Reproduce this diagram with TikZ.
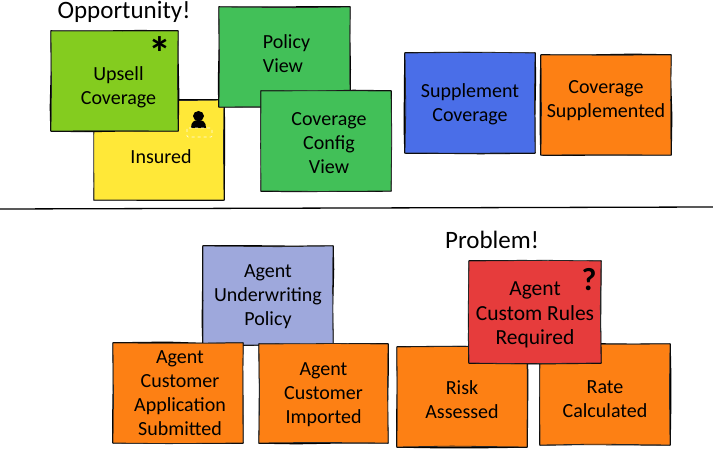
\documentclass[tikz,border=0pt]{standalone}
\usepackage{fontspec}
\setmainfont{Carlito}
\usetikzlibrary{decorations.pathmorphing,calc}
\definecolor{lime}{HTML}{84CC1F}
\definecolor{grn}{HTML}{42C058}
\definecolor{yel}{HTML}{FFE838}
\definecolor{blu}{HTML}{4A6EE8}
\definecolor{org}{HTML}{FD8014}
\definecolor{lav}{HTML}{9EA8DC}
\definecolor{rd}{HTML}{E63C3C}
\tikzset{
  x=1pt,y=-1pt,
  sticky/.style={anchor=north west,inner sep=0pt,outer sep=0pt,
    preaction={draw=black,line width=1.5pt,line cap=round,line join=round,
      decorate,decoration={random steps,segment length=38pt,amplitude=.7pt}},
    postaction={draw=black!85,line width=.8pt,line cap=round,
      decorate,decoration={random steps,segment length=55pt,amplitude=.9pt}}},
  box/.style n args={3}{sticky,minimum width=#1,minimum height=#2,fill=#3},
  every label/.style={inner sep=0pt,align=center,text=black,font=\fontsize{20}{24}\selectfont},
  heading/.style={font=\fontsize{25}{28}\selectfont,inner sep=0pt},
  glyph/.style={font=\fontsize{32}{32}\selectfont\bfseries,inner sep=0pt},
}
\pgfmathsetseed{11}
\begin{document}
\begin{tikzpicture}
\useasboundingbox (0,0) rectangle (713,449);
\node[heading] (opp) at (124,12) {Opportunity!};
\node[heading] (prob) at (492,240) {Problem!};
\node[box={130pt}{100pt}{yel},label={[name=insuredT,xshift=2pt,yshift=-7pt]center:Insured}] (insured) at (94,100) {};
\node[box={127pt}{100pt}{lime},label={[name=upsellT,xshift=4pt,yshift=-6pt]center:Upsell\\Coverage}] (upsell) at (51,31) {};
\node[box={131pt}{100pt}{grn},label={[name=policyT,align=left,xshift=2pt,yshift=3pt]center:Policy\\View}] (policy) at (219,7) {};
\node[box={130pt}{100pt}{grn},label={[name=configT,xshift=3pt,yshift=-2pt]center:Coverage\\Config\\View}] (config) at (261,91) {};
\node[box={130pt}{100pt}{blu},label={[name=suppT,yshift=-1pt]center:Supplement\\Coverage}] (supp) at (405,53) {};
\node[box={130pt}{100pt}{org},label={[name=suppedT,yshift=4pt]center:Coverage\\Supplemented}] (supped) at (541,55) {};
\coordinate (lineL) at (0,209);
\coordinate (lineR) at (713,207);
\draw[line width=1.3pt,black] (lineL) -- (lineR);
\node[box={130pt}{99pt}{lav},label={[name=underT,yshift=-1pt]center:Agent\\Underwriting\\Policy}] (under) at (203,246) {};
\node[box={130pt}{100pt}{org},label={[name=appT,xshift=2pt]center:Agent\\Customer\\Application\\Submitted}] (app) at (113,343) {};
\node[box={129pt}{99pt}{org},label={[name=importedT,yshift=-1pt]center:Agent\\Customer\\Imported}] (imported) at (259,344) {};
\node[box={130pt}{100pt}{org},label={[name=riskT,yshift=-3pt]center:Risk\\Assessed}] (risk) at (397,347) {};
\node[box={130pt}{101pt}{org},label={[name=rateT,yshift=-5pt]center:Rate\\Calculated}] (rate) at (540,344) {};
\node[box={132pt}{102pt}{rd},label={[name=customT,yshift=-3pt,font=\fontsize{21.5}{24.5}\selectfont]center:Agent\\Custom Rules\\Required}] (custom) at (469,261) {};
\node[glyph,font=\fontsize{46}{46}\selectfont\bfseries] (ast) at (160,53) {*};
\node[glyph] (quest) at (589,280) {?};
% person icon
\fill[black] (198.5,116) ellipse (5.5pt and 5pt);
\fill[black] (191,128) .. controls (191,122) and (194,120) .. (198.5,120) .. controls (203,120) and (206,122) .. (206,128) -- cycle;
\draw[white!88!yel,dashed,line width=.6pt,rounded corners=1pt] (187,128) rectangle (212,137);
\end{tikzpicture}
\end{document}
